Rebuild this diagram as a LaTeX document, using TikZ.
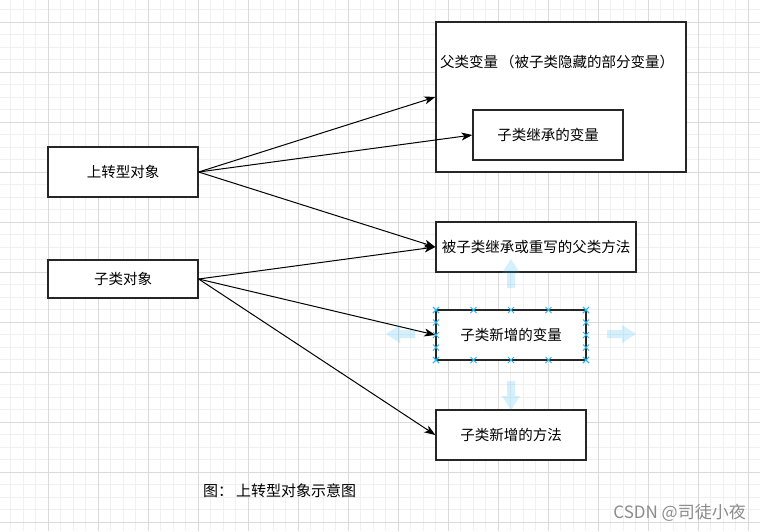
\documentclass[tikz,border=0pt]{standalone}
\usepackage{fontspec}
\setmainfont{Noto Sans CJK SC}
\usepackage{xcolor}
\usetikzlibrary{arrows.meta}
\definecolor{gridminor}{HTML}{F0F0F0}
\definecolor{gridmajor}{HTML}{DADADA}
\definecolor{handleblue}{HTML}{29B6F2}
\definecolor{markgray}{HTML}{8C8C8C}

\begin{document}
\begin{tikzpicture}[x=1pt,y=-1pt,
    box/.style={draw=black!85, line width=1.3pt, fill=white, inner sep=0pt,
        font=\fontsize{14.5}{16}\selectfont},
    label/.style={inner sep=0pt, font=\fontsize{14.5}{16}\selectfont},
    link/.style={-{Stealth[length=11pt,width=8pt,inset=3pt]}, line width=1pt},
    hintarrow/.pic={\fill[handleblue, fill opacity=0.2]
        (-4,0) -- (-4,-15) -- (-9,-15) -- (0,-29) -- (9,-15) -- (4,-15) -- (4,0) -- cycle;},
    handlemark/.pic={\draw[handleblue, line width=0.9pt]
        (-3,-3) -- (3,3) (-3,3) -- (3,-3);}]
    \useasboundingbox[fill=white] (0,0) rectangle (760,531);

    % Grid
    \foreach \gx in {10.5,23,...,760} \draw[gridminor] (\gx,0) -- (\gx,531);
    \foreach \gy in {9.5,22,...,531} \draw[gridminor] (0,\gy) -- (760,\gy);
    \foreach \gx in {48,98,...,760} \draw[gridmajor] (\gx,0) -- (\gx,531);
    \foreach \gy in {22,72,...,531} \draw[gridmajor] (0,\gy) -- (760,\gy);

    % Objects
    \node[box, minimum width=150pt, minimum height=50pt] (upcast) at (123,172) {上转型对象};
    \node[box, minimum width=150pt, minimum height=38pt] (subobj) at (123,279) {子类对象};

    % Parent variables
    \node[box, minimum width=250pt, minimum height=150pt] (parentvar) at (561,97) {};
    \node[label, anchor=west] (parentvartext) at (440,62) {父类变量\hspace{2pt}（被子类隐藏的部分变量）};
    \node[box, minimum width=150pt, minimum height=50pt] (inherited) at (548,135) {子类继承的变量};

    % Methods and new members
    \node[box, minimum width=200pt, minimum height=50pt] (overridden) at (536,247) {被子类继承或重写的父类方法};
    \node[box, minimum width=150pt, minimum height=50pt] (newvar) at (511,335) {子类新增的变量};
    \node[box, minimum width=150pt, minimum height=50pt] (newmethod) at (511,435) {子类新增的方法};

    % Connectors
    \draw[link] (upcast.east) -- (parentvar.west);
    \draw[link] (upcast.east) -- (inherited.west);
    \draw[link] (upcast.east) -- (overridden.west);
    \draw[link] (subobj.east) -- (overridden.west);
    \draw[link] (subobj.east) -- (newvar.west);
    \draw[link] (subobj.east) -- (newmethod.west);

    % Selection hints
    \pic at (511,288) {hintarrow};
    \pic[rotate=180] at (511,381) {hintarrow};
    \pic[rotate=90] at (415,334) {hintarrow};
    \pic[rotate=-90] at (607,334) {hintarrow};
    \foreach \i in {0,...,4} {
        \pic at (436+37.5*\i,310) {handlemark};
        \pic at (436+37.5*\i,360) {handlemark};
        \pic at (436,310+12.5*\i) {handlemark};
        \pic at (586,310+12.5*\i) {handlemark};
    }

    % Caption
    \node[label, anchor=west, font=\fontsize{15}{17}\selectfont] (caption) at (203,491) {图：\hspace{3pt}上转型对象示意图};
    \node[label, anchor=east, text=markgray, font=\fontsize{17}{19}\selectfont] (mark) at (746,513) {CSDN @司徒小夜};
\end{tikzpicture}
\end{document}
